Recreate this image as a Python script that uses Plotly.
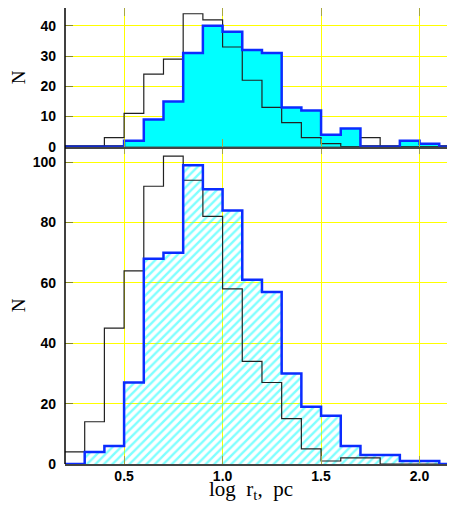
import plotly.graph_objects as go

# Bin edges (log r_t, pc), 20 bins of 0.1
bin_edges = [0.2, 0.3, 0.4, 0.5, 0.6, 0.7, 0.8, 0.9, 1.0, 1.1, 1.2,
             1.3, 1.4, 1.5, 1.6, 1.7, 1.8, 1.9, 2.0, 2.1, 2.2]

# Top panel
top_black = [0, 0, 3, 11, 24, 29, 44, 42, 33, 22, 13, 8, 3, 1, 0, 3, 0, 0, 0, 0]
top_blue = [0, 0, 0, 2, 9, 15, 31, 40, 38, 32, 31, 13, 12, 4, 6, 0, 0, 2, 1, 0]

# Bottom panel
bot_black = [4, 14, 45, 64, 92, 102, 94, 82, 58, 34, 27, 15, 5, 1, 2, 2, 0, 0, 0, 0]
bot_blue = [0, 4, 6, 27, 68, 70, 99, 91, 84, 61, 57, 30, 19, 16, 6, 3, 3, 1, 1, 0]

x_tickvals = [0.5, 1.0, 1.5, 2.0]
x_ticktext = ["0.5", "1.0", "1.5", "2.0"]
top_yticks = [0, 10, 20, 30, 40]
bot_yticks = [0, 20, 40, 60, 80, 100]


def steps(vals):
    return list(vals) + [vals[-1]]


BLUE = "#0b2cff"
BLACK = "#222222"
CYAN = "#00ffff"

fig = go.Figure()

# ---- top panel ----
fig.add_trace(go.Scatter(x=bin_edges, y=steps(top_blue), mode="lines", line_shape="hv",
                         line=dict(width=0, color=BLUE), fill="tozeroy", fillcolor=CYAN,
                         xaxis="x2", yaxis="y2", hoverinfo="skip", showlegend=False))
fig.add_trace(go.Scatter(x=bin_edges, y=steps(top_black), mode="lines", line_shape="hv",
                         line=dict(width=1.2, color=BLACK), xaxis="x2", yaxis="y2",
                         showlegend=False))
fig.add_trace(go.Scatter(x=bin_edges, y=steps(top_blue), mode="lines", line_shape="hv",
                         line=dict(width=2.5, color=BLUE), xaxis="x2", yaxis="y2",
                         showlegend=False))

# ---- bottom panel ----
fig.add_trace(go.Scatter(x=bin_edges, y=steps(bot_blue), mode="lines", line_shape="hv",
                         line=dict(width=0, color=BLUE), fill="tozeroy",
                         fillcolor="rgba(0,0,0,0)",
                         fillpattern=dict(shape="/", fgcolor=CYAN, bgcolor="rgba(0,0,0,0)",
                                          size=6, solidity=0.4),
                         xaxis="x", yaxis="y", hoverinfo="skip", showlegend=False))
fig.add_trace(go.Scatter(x=bin_edges, y=steps(bot_black), mode="lines", line_shape="hv",
                         line=dict(width=1.2, color=BLACK), xaxis="x", yaxis="y",
                         showlegend=False))
fig.add_trace(go.Scatter(x=bin_edges, y=steps(bot_blue), mode="lines", line_shape="hv",
                         line=dict(width=2.5, color=BLUE), xaxis="x", yaxis="y",
                         showlegend=False))

split = 0.6958
tickfont = dict(family="Liberation Sans", size=14, color="black", weight="bold")
common_x = dict(range=[0.2, 2.18], tickvals=x_tickvals, ticktext=x_ticktext,
                showgrid=True, gridcolor="#ffff00", gridwidth=1, zeroline=False,
                ticks="inside", ticklen=8, tickcolor="#a8a840", tickwidth=1,
                showline=True, linecolor="#444444", linewidth=1.5, mirror="ticks",
                tickfont=tickfont, automargin=False)
common_y = dict(showgrid=True, gridcolor="#ffff00", gridwidth=1, zeroline=False,
                ticks="inside", ticklen=8, tickcolor="#8c8c20", tickwidth=1,
                showline=False, mirror="ticks", tickfont=tickfont, ticklabelstandoff=8,
                automargin=False)

fig.update_layout(
    width=447, height=500,
    margin=dict(l=57, r=0, t=0, b=44),
    paper_bgcolor="white", plot_bgcolor="white",
    xaxis=dict(domain=[0, 1], anchor="y", ticklabelstandoff=-2, **common_x),
    yaxis=dict(domain=[0, split], anchor="x", range=[0, 105.1], tickvals=bot_yticks, **common_y),
    xaxis2=dict(domain=[0, 1], anchor="y2", matches="x", showticklabels=False, **common_x),
    yaxis2=dict(domain=[split, 1], anchor="x2", range=[0, 45.9], tickvals=top_yticks, **common_y),
    shapes=[dict(type="line", xref="paper", yref="paper", x0=0, x1=0, y0=0, y1=1,
                 line=dict(color="black", width=1.5))],
    annotations=[
        dict(text="N", xref="paper", yref="paper", x=0, y=split + (1 - split) / 2,
             xanchor="center", yanchor="middle", xshift=-47, textangle=-90, showarrow=False,
             font=dict(family="Liberation Serif", size=19, color="black")),
        dict(text="N", xref="paper", yref="paper", x=0, y=split / 2,
             xanchor="center", yanchor="middle", xshift=-47, textangle=-90, showarrow=False,
             font=dict(family="Liberation Serif", size=19, color="black")),
        dict(text="log\u00a0\u00a0r<sub>t</sub>,\u00a0\u00a0pc", xref="paper", yref="paper",
             x=0.477, y=0, xanchor="center", yanchor="middle", yshift=-26, showarrow=False,
             font=dict(family="Liberation Serif", size=21, color="black")),
    ],
)

fig.write_html("out.html")
